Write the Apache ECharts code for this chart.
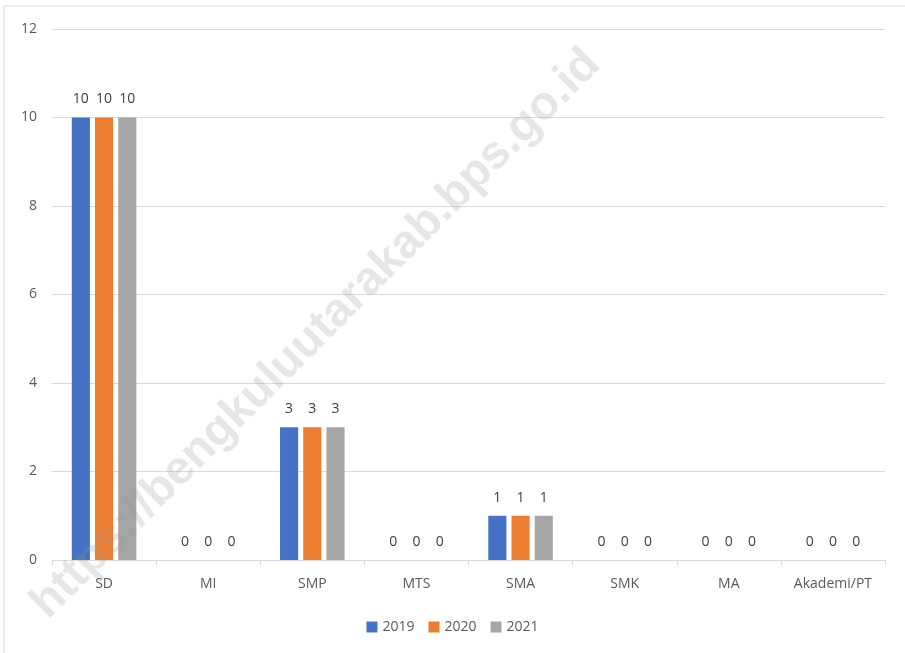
<!DOCTYPE html>
<html>
<head>
<meta charset="utf-8">
<script src="https://cdn.jsdelivr.net/npm/echarts@6/dist/echarts.min.js"></script>
<style>
  html, body { margin: 0; padding: 0; background: #fff; }
  #chart { width: 905px; height: 653px; }
</style>
</head>
<body>
<div id="chart"></div>
<script>
// jenjang pendidikan
var categories = ['SD', 'MI', 'SMP', 'MTS', 'SMA', 'SMK', 'MA', 'Akademi/PT'];
var years = ['2019', '2020', '2021'];
var data2019 = [10, 0, 3, 0, 1, 0, 0, 0];
var data2020 = [10, 0, 3, 0, 1, 0, 0, 0];
var data2021 = [10, 0, 3, 0, 1, 0, 0, 0];
var colors = ['#4472C4', '#ED7D31', '#A5A5A5'];

var font = '"Open Sans", "Noto Sans", sans-serif';

var chart = echarts.init(document.getElementById('chart'));

function makeSeries(name, arr) {
  return {
    name: name,
    type: 'bar',
    data: arr,
    barGap: '28%',
    barCategoryGap: '38%',
    label: {
      show: true,
      position: 'top',
      distance: 11,
      color: '#404040',
      fontSize: 14,
      fontFamily: font
    }
  };
}

var option = {
  color: colors,
  animation: false,
  textStyle: { fontFamily: font },
  grid: {
    left: 52,
    right: 20,
    top: 29,
    bottom: 93
  },
  legend: {
    bottom: 14,
    left: 'center',
    itemWidth: 11,
    itemHeight: 11,
    itemGap: 14,
    icon: 'rect',
    textStyle: { fontSize: 14, color: '#595959', fontFamily: font },
    data: years
  },
  xAxis: {
    type: 'category',
    data: categories,
    axisLine: { lineStyle: { color: '#d9d9d9', width: 1 } },
    axisTick: { show: true, length: 5, lineStyle: { color: '#d9d9d9' } },
    axisLabel: { color: '#595959', fontSize: 14, margin: 17, fontFamily: font }
  },
  yAxis: {
    type: 'value',
    min: 0,
    max: 12,
    interval: 2,
    axisLine: { show: false },
    axisTick: { show: false },
    axisLabel: { color: '#595959', fontSize: 14, margin: 15, fontFamily: font },
    splitLine: { lineStyle: { color: '#d9d9d9', width: 1 } }
  },
  series: [
    makeSeries(years[0], data2019),
    makeSeries(years[1], data2020),
    makeSeries(years[2], data2021)
  ],
  graphic: [
    {
      type: 'rect',
      shape: { x: 4, y: 6, width: 920, height: 680 },
      style: { fill: 'none', stroke: '#d9d9d9', lineWidth: 1 },
      silent: true,
      z: -10
    },
    {
      type: 'text',
      x: 316,
      y: 334,
      rotation: Math.PI / 4,
      style: {
        text: 'https://bengkuluutarakab.bps.go.id',
        fontSize: 47,
        fontWeight: 'bold',
        fontFamily: '"Liberation Sans", Arial, sans-serif',
        fill: 'rgba(150,150,150,0.24)',
        align: 'center',
        verticalAlign: 'middle'
      },
      silent: true,
      z: 100
    }
  ]
};

chart.setOption(option);
</script>
</body>
</html>
